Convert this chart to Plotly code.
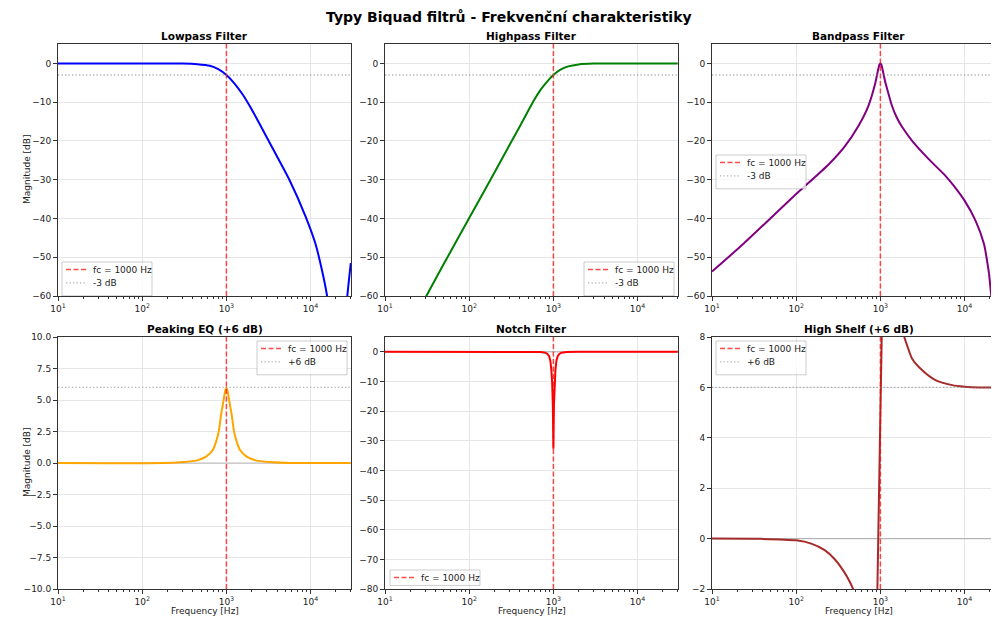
import plotly.graph_objects as go

# ---------------- data ----------------
FC = 1000
lp_f = [10, 100, 300, 450, 637, 800, 1000, 1250, 1570, 2000, 2466, 3540, 5560, 8730, 11450, 13700, 15700, 17000, 22050, 26000, 27300, 30000]
lp_db = [0, 0, -0.05, -0.2, -0.6, -1.5, -3.0, -5.2, -8.1, -11.9, -15.5, -21.9, -29.9, -39.5, -46.6, -53.5, -60, -66, -100, -66, -60, -51.5]

hp_f = [25, 31, 50, 100, 181, 313, 400, 500, 600, 700, 800, 900, 1000, 1200, 1500, 2000, 3000, 10000, 30000]
hp_db = [-63.8, -60, -51.7, -39.9, -29.8, -20.4, -16.2, -12.3, -9.2, -6.9, -5.3, -4.0, -3.0, -1.7, -0.78, -0.26, -0.05, 0, 0]

bp_f = [10, 24, 100, 239, 378, 546, 719, 863, 912, 950, 975, 1000, 1025, 1050, 1096, 1137, 1250, 1365, 1560, 1798, 2370, 3750, 5930, 7460, 10000, 13530, 17000, 19540]
bp_db = [-53.7, -46.4, -33.7, -26.2, -21.4, -16.2, -11.0, -5.4, -3.0, -1.2, -0.3, 0, -0.3, -1.1, -3.0, -4.6, -7.9, -10.8, -13.9, -16.3, -19.9, -24.7, -29.0, -31.6, -35.4, -40.6, -46.6, -54.3]
# bandpass null near Nyquist (drawn as straight segments)
bp_tail_f = [19540, 20200, 20750, 22050, 23600, 24600, 25700]
bp_tail_db = [-54.3, -57.0, -60, -80, -60, -52, -46]

pk_f = [10, 177, 304, 437, 574, 689, 755, 811, 864, 921, 960, 1000, 1042, 1085, 1157, 1233, 1325, 1452, 1740, 2285, 3290, 5680, 30000]
pk_db = [0, 0.0, 0.08, 0.19, 0.50, 1.03, 1.70, 2.49, 3.82, 4.88, 5.6, 6.0, 5.6, 4.88, 3.82, 2.49, 1.70, 1.03, 0.50, 0.19, 0.08, 0.0, 0]

nt_f = [10, 500, 700, 800, 850, 890, 920, 945, 965, 985, 1000, 1015, 1036, 1058, 1087, 1124, 1176, 1250, 1430, 2000, 30000]
nt_db = [0, 0, -0.1, -0.3, -0.7, -1.5, -3, -6, -10, -18, -32.7, -18, -10, -6, -3, -1.5, -0.7, -0.3, -0.1, 0, 0]

hs_f = [10, 38, 100, 151, 218, 287, 361, 434, 489, 540, 600, None, 891, 1072, None, 1700, 1937, 2100, 2372, 3120, 4500, 7120, 10000, 14800, 30000]
hs_db = [0, -0.01, -0.07, -0.2, -0.46, -0.82, -1.26, -1.72, -2.12, -2.7, -3.5, None, -4.8, 10.8, None, 9.0, 7.97, 7.62, 7.15, 6.69, 6.29, 6.09, 6.03, 6.0, 6.0]

titles = ["Lowpass Filter", "Highpass Filter", "Bandpass Filter",
          "Peaking EQ (+6 dB)", "Notch Filter", "High Shelf (+6 dB)"]
curves = [(lp_f, lp_db, "blue"), (hp_f, hp_db, "green"), (bp_f, bp_db, "purple"),
          (pk_f, pk_db, "orange"), (nt_f, nt_db, "red"), (hs_f, hs_db, "brown")]
ylims = [(-60, 5), (-60, 5), (-60, 5), (-10, 10), (-80, 5), (-2, 8)]
ref_levels = [(-3, "-3 dB"), (-3, "-3 dB"), (-3, "-3 dB"), (6, "+6 dB"), None, (6, "+6 dB")]
zero_line = [False, False, False, True, True, True]
y_ticks = [list(range(-60, 1, 10))] * 3 + [[-10, -7.5, -5, -2.5, 0, 2.5, 5, 7.5, 10]] + [list(range(-80, 1, 10))] + [[-2, 0, 2, 4, 6, 8]]

# ---------------- layout geometry ----------------
# page body has an 8px margin: the figure is drawn 8px right/down of the window corner
OFF = 8
W, H = 999 - OFF, 620 - OFF
col_px = [(58, 351), (385, 678), (712, 999)]   # window pixels
row_px = [(44, 296), (337, 589)]
dec_px = 293 / 3.48
xranges = [[1, 4.48], [1, 4.48], [1, 1 + (999 - 712) / dec_px]]


def px(x):
    return (x - OFF) / W


def py(y):
    return 1 - (y - OFF) / H


FONT = "DejaVu Sans"
TXT = "#222222"
FC_STYLE = dict(color="rgba(255,0,0,0.7)", width=1.5, dash="5px,2.5px")
REF_STYLE = dict(color="rgba(128,128,128,0.6)", width=1.3, dash="1.3px,2.2px")

fig = go.Figure()
layout = dict(width=W, height=H, margin=dict(l=0, r=0, t=0, b=0, autoexpand=False),
              plot_bgcolor="white", paper_bgcolor="white",
              font=dict(family=FONT, size=9, color=TXT), showlegend=False)

minor_vals = [m * 10 ** e for e in range(1, 5) for m in range(2, 10)]

annotations = []
shapes = []
for i in range(6):
    r, c = divmod(i, 3)
    ax = "" if i == 0 else str(i + 1)
    xa, ya = "x" + ax, "y" + ax
    x0, x1 = col_px[c]
    y0, y1 = row_px[r]
    layout["xaxis" + ax] = dict(
        type="log", domain=[px(x0), min(1.0, px(x1))], range=xranges[c], anchor=ya, automargin=False,
        tickvals=[10, 100, 1000, 10000],
        ticktext=["10<sup>1</sup>", "10<sup>2</sup>", "10<sup>3</sup>", "10<sup>4</sup>"],
        ticks="outside", ticklen=4, tickcolor="#333", tickfont=dict(size=9, color=TXT),
        showgrid=True, gridcolor="#e6e6e6", gridwidth=1, zeroline=False,
        showline=True, linecolor="#333", linewidth=1, mirror=True,
        minor=dict(tickvals=minor_vals, ticks="outside", ticklen=2, tickcolor="#333", showgrid=False),
    )
    layout["yaxis" + ax] = dict(
        domain=[py(y1), py(y0)], range=list(ylims[i]), anchor=xa, automargin=False,
        tickvals=y_ticks[i], ticks="outside", ticklen=4, tickcolor="#333",
        tickformat=".1f" if i == 3 else "d", tickfont=dict(size=9, color=TXT),
        showgrid=True, gridcolor="#e6e6e6", gridwidth=1, zeroline=False,
        showline=True, linecolor="#333", linewidth=1, mirror=(c != 2),
    )
    cx = (x0 + x0 + 293) / 2
    annotations.append(dict(text="<b>" + titles[i] + "</b>", x=px(cx), y=py(y0 - 8),
                            xref="paper", yref="paper", showarrow=False,
                            font=dict(size=10.5, color="black", family=FONT), xanchor="center", yanchor="middle"))

    xr = xranges[c]
    if zero_line[i]:
        fig.add_trace(go.Scatter(x=[10 ** xr[0], 10 ** xr[1]], y=[0, 0], mode="lines",
                                 line=dict(color="rgba(128,128,128,0.5)", width=1.2),
                                 xaxis=xa, yaxis=ya, hoverinfo="skip"))
    f, d, col = curves[i]
    shape = "linear" if i == 4 else "spline"
    fig.add_trace(go.Scatter(x=f, y=d, mode="lines",
                             line=dict(color=col, width=2, shape=shape, smoothing=0.6),
                             xaxis=xa, yaxis=ya, connectgaps=False))
    if i == 2:
        fig.add_trace(go.Scatter(x=bp_tail_f, y=bp_tail_db, mode="lines",
                                 line=dict(color=col, width=2), xaxis=xa, yaxis=ya))
    fig.add_trace(go.Scatter(x=[FC, FC], y=list(ylims[i]), mode="lines", name="fc = %d Hz" % FC,
                             line=FC_STYLE, xaxis=xa, yaxis=ya))
    if ref_levels[i] is not None:
        lv, nm = ref_levels[i]
        fig.add_trace(go.Scatter(x=[10 ** xr[0], 10 ** xr[1]], y=[lv, lv], mode="lines", name=nm,
                                 line=REF_STYLE, xaxis=xa, yaxis=ya))

# hand-drawn matplotlib-style legends (window pixels: left, top of the box)
leg_pos = [(62, 262), (584, 262), (716, 155), (257, 341), (390, 570), (716, 341)]
LEG_W = 90
for i, (lx, ly) in enumerate(leg_pos):
    entries = [("fc = %d Hz" % FC, FC_STYLE)]
    if ref_levels[i] is not None:
        entries.append((ref_levels[i][1], REF_STYLE))
    hgt = 4 + 13.4 * len(entries) + (3 if len(entries) > 1 else -2)
    shapes.append(dict(type="rect", xref="paper", yref="paper", layer="above",
                       x0=px(lx), x1=px(lx + LEG_W), y0=py(ly + hgt), y1=py(ly),
                       fillcolor="rgba(255,255,255,0.8)", line=dict(color="rgba(0,0,0,0.2)", width=1)))
    for k, (label, st) in enumerate(entries):
        yc = ly + 7.5 + 13.4 * k
        shapes.append(dict(type="line", xref="paper", yref="paper", layer="above",
                           x0=px(lx + 4), x1=px(lx + 24), y0=py(yc), y1=py(yc), line=st))
        annotations.append(dict(text=label, x=px(lx + 28.5), y=py(yc), xref="paper", yref="paper",
                                showarrow=False, xanchor="left", yanchor="middle",
                                font=dict(size=9, color=TXT, family=FONT)))

annotations.append(dict(text="<b>Typy Biquad filtrů - Frekvenční charakteristiky</b>", x=px(509), y=py(17),
                        xref="paper", yref="paper", showarrow=False,
                        font=dict(size=14, color="black", family=FONT), xanchor="center", yanchor="middle"))
for r in range(2):
    yc = (row_px[r][0] + row_px[r][1]) / 2
    annotations.append(dict(text="Magnitude [dB]", x=px(27), y=py(yc), xref="paper", yref="paper",
                            showarrow=False, textangle=-90, font=dict(size=9, color=TXT, family=FONT),
                            xanchor="center", yanchor="middle"))
for c in range(3):
    xc = (col_px[c][0] + col_px[c][0] + 293) / 2
    annotations.append(dict(text="Frequency [Hz]", x=px(xc), y=py(611), xref="paper", yref="paper",
                            showarrow=False, font=dict(size=9, color=TXT, family=FONT),
                            xanchor="center", yanchor="middle"))
layout["annotations"] = annotations
layout["shapes"] = shapes
fig.update_layout(**layout)
fig.write_html("out.html")
